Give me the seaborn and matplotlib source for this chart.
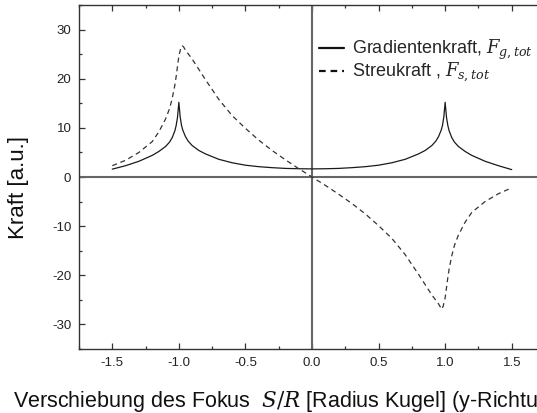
import numpy as np
import pandas as pd
import matplotlib
matplotlib.use("Agg")
import matplotlib.pyplot as plt
from matplotlib.lines import Line2D
from matplotlib.ticker import MultipleLocator
import seaborn as sns

# ---- data ----
x_grad = [-1.5, -1.4, -1.3, -1.2, -1.15, -1.1, -1.07, -1.05, -1.03, -1.02, -1.01, -1.0,
          -0.99, -0.98, -0.97, -0.95, -0.93, -0.9, -0.85, -0.8, -0.7, -0.6, -0.5, -0.4,
          -0.3, -0.2, -0.1, 0.0,
          0.1, 0.2, 0.3, 0.4, 0.5, 0.6, 0.7, 0.8, 0.85, 0.9, 0.93, 0.95, 0.97, 0.98,
          0.99, 1.0, 1.01, 1.02, 1.03, 1.05, 1.07, 1.1, 1.15, 1.2, 1.3, 1.4, 1.5]
f_grad = [1.6, 2.3, 3.2, 4.4, 5.2, 6.2, 7.1, 8.0, 9.4, 10.5, 12.2, 15.2,
          12.2, 10.5, 9.5, 8.2, 7.3, 6.4, 5.4, 4.7, 3.6, 2.9, 2.4, 2.1,
          1.9, 1.75, 1.68, 1.65,
          1.68, 1.75, 1.9, 2.1, 2.4, 2.9, 3.6, 4.7, 5.4, 6.4, 7.3, 8.2, 9.5, 10.5,
          12.2, 15.2, 12.2, 10.5, 9.4, 8.0, 7.1, 6.2, 5.2, 4.4, 3.2, 2.3, 1.5]

x_scat = [-1.5, -1.4, -1.3, -1.2, -1.15, -1.1, -1.07, -1.05, -1.03, -1.02, -1.0,
          -0.985, -0.975, -0.965, -0.95, -0.9, -0.85,
          -0.8, -0.7, -0.6, -0.5, -0.4, -0.3, -0.2, -0.1, 0.0,
          0.1, 0.2, 0.3, 0.4, 0.5, 0.6, 0.7, 0.8, 0.85, 0.9, 0.95, 0.965, 0.975,
          0.985, 1.0, 1.02, 1.03, 1.05, 1.07, 1.1, 1.15, 1.2, 1.3, 1.4, 1.5]
f_scat = [2.3, 3.4, 5.0, 7.2, 9.2, 11.8, 13.9, 16.0, 18.7, 20.5, 24.6,
          26.3, 26.7, 26.5, 25.8, 24.0, 21.9,
          19.8, 15.8, 12.5, 9.9, 7.5, 5.4, 3.5, 1.7, 0.0,
          -1.7, -3.5, -5.4, -7.5, -9.9, -12.5, -15.8, -19.8, -21.9, -24.0, -25.8,
          -26.5, -26.9, -26.3, -24.6, -20.5, -18.7, -16.0, -13.9, -11.8, -9.2, -7.2,
          -5.0, -3.4, -2.2]

legend_labels = [r"Gradientenkraft, $F_{g,tot}$", r"Streukraft , $F_{s,tot}$"]
x_label = r"Verschiebung des Fokus  $S/R$ [Radius Kugel] (y-Richtung)"
y_label = "Kraft [a.u.]"

sns.set_theme(style="white")
plt.rcParams["font.family"] = ["Liberation Sans", "DejaVu Sans"]
plt.rcParams["mathtext.fontset"] = "dejavuserif"

W, H = 537, 413
fig = plt.figure(figsize=(W / 100, H / 100), dpi=100)
ax = fig.add_axes([79 / W, 1 - 349 / H, 466 / W, 344 / H])

df_g = pd.DataFrame({"x": x_grad, "y": f_grad})
df_s = pd.DataFrame({"x": x_scat, "y": f_scat})

ax.axhline(0, color="#666666", lw=1.5, zorder=1)
ax.axvline(0, color="#666666", lw=1.5, zorder=1)

sns.lineplot(data=df_g, x="x", y="y", ax=ax, color="#1a1a1a", lw=0.9,
             estimator=None, sort=False, zorder=3)
sns.lineplot(data=df_s, x="x", y="y", ax=ax, color="#333333", lw=0.9,
             estimator=None, sort=False, zorder=3, linestyle=(0, (4, 3)))

ax.set_xlim(-1.75, 1.75)
ax.set_ylim(-35, 35)
ax.xaxis.set_minor_locator(MultipleLocator(0.25))
ax.yaxis.set_minor_locator(MultipleLocator(5))
ax.set_xticks([-1.5, -1.0, -0.5, 0.0, 0.5, 1.0, 1.5])
ax.set_xticklabels(["-1.5", "-1.0", "-0.5", "0.0", "0.5", "1.0", "1.5"])
ax.set_yticks([-30, -20, -10, 0, 10, 20, 30])
ax.set_yticklabels(["-30", "-20", "-10", "0", "10", "20", "30"])

ax.tick_params(axis="both", which="both", direction="in", colors="#333333",
               labelcolor="#222222", labelsize=9.5, width=0.9)
ax.tick_params(axis="x", which="both", top=True, bottom=True)
ax.tick_params(axis="y", which="both", left=True, right=False)
ax.tick_params(which="major", length=4.5)
ax.tick_params(which="minor", length=2.5)
ax.tick_params(axis="x", which="major", pad=5.5)
ax.tick_params(axis="y", which="major", pad=5.5)

for s in ax.spines.values():
    s.set_color("#333333")
    s.set_linewidth(1.0)

ax.set_xlabel("")
ax.set_ylabel(y_label, fontsize=16, color="#111111")
ax.yaxis.set_label_coords(-0.108, 0.47)

fig.text(13 / W, 1 - 407 / H, x_label, fontsize=15.5, ha="left", va="baseline",
         color="#111111")

handles = [Line2D([], [], color="#111111", lw=1.6),
           Line2D([], [], color="#111111", lw=1.6, linestyle=(0, (3, 2.2)))]
leg = ax.legend(handles, legend_labels, loc="upper left",
                bbox_to_anchor=(306 / W, 1 - 25 / H), bbox_transform=fig.transFigure,
                frameon=False, fontsize=13, handlelength=1.4, handletextpad=0.45,
                labelspacing=-0.06, borderpad=0.2)

fig.savefig("out.png", dpi=100)
